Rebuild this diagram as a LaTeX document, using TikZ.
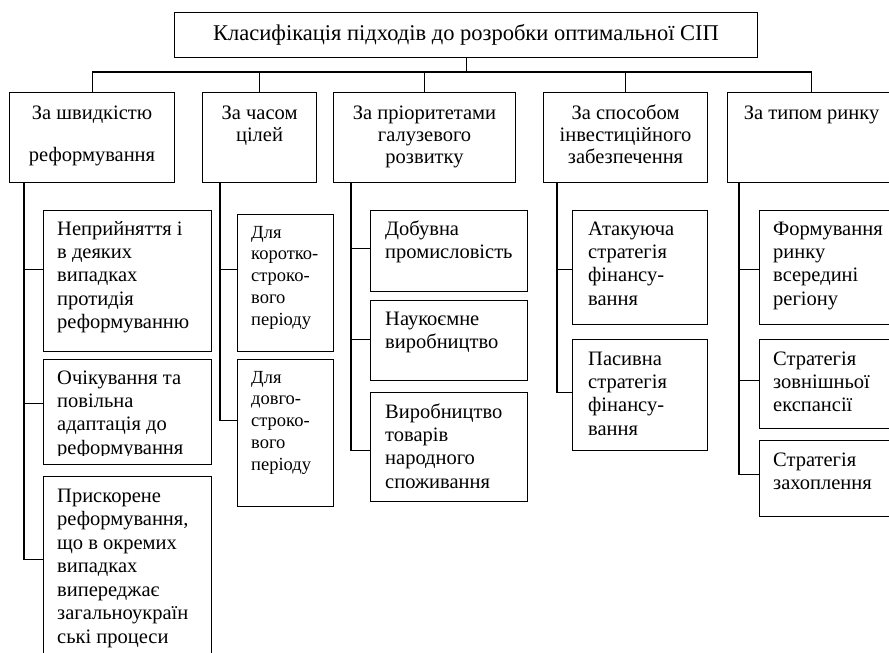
\documentclass[tikz,border=0pt]{standalone}
\usepackage{fontspec}
\setmainfont{Liberation Serif}
\tikzset{
 box/.style={draw, line width=1.1pt, rectangle, inner sep=0pt, anchor=north west},
 ln/.style={line width=1.1pt},
 txt/.style={anchor=north west, inner sep=0pt, align=left, font=\fontsize{20.5}{23.3}\selectfont},
 ctxt/.style={anchor=north, inner sep=0pt, align=center, font=\fontsize{20.5}{22.3}\selectfont},
 stxt/.style={anchor=north west, inner sep=0pt, align=left, font=\fontsize{18.5}{21.7}\selectfont},
}
\newcommand\bx[5]{\node[box, minimum width={#4-#2}, minimum height={#5-#3}] (#1) at (#2,#3) {};}
\newcommand\st{\rule{0pt}{15pt}}
\newcommand\sst{\rule{0pt}{13pt}}
\begin{document}
\begin{tikzpicture}[x=1pt,y=-1pt]
\useasboundingbox (0,0) rectangle (889,653);
\clip (0,0) rectangle (889,653);
% title
\node[box, minimum width=583, minimum height=45, font=\fontsize{22.5}{25}\selectfont] (title) at (174,12) {Класифікація підходів до розробки оптимальної СІП};
% level 1
\bx{b1}{9}{92}{174}{182}
\bx{b2}{202}{92}{316}{182}
\bx{b3}{333}{92}{515}{182}
\bx{b4}{543}{92}{707}{182}
\bx{b5}{727}{92}{895}{182}
\node[ctxt] (t1) at ([yshift=-12pt]b1.north) {\st За швидкістю\\[19.7pt]реформування};
\node[ctxt] (t2) at ([yshift=-12pt]b2.north) {\st За часом\\цілей};
\node[ctxt] (t3) at ([yshift=-12pt]b3.north) {\st За пріоритетами\\галузевого\\розвитку};
\node[ctxt] (t4) at ([yshift=-12pt]b4.north) {\st За способом\\інвестиційного\\забезпечення};
\node[ctxt] (t5) at ([yshift=-12pt]b5.north) {\st За типом ринку};
% bus
\coordinate (bus) at (0,72);
\draw[ln] (title.south) -- (title.south |- bus);
\draw[ln] (b1.north) -- (b1.north |- bus) -- (b5.north |- bus) -- (b5.north);
\draw[ln] (b2.north) -- (b2.north |- bus);
\draw[ln] (b3.north) -- (b3.north |- bus);
\draw[ln] (b4.north) -- (b4.north |- bus);
% column 1
\bx{c11}{43}{210}{211}{351}
\bx{c12}{43}{359}{211}{464}
\bx{c13}{43}{476}{211}{670}
\node[txt] (x11) at (57,220) {\st Неприйняття і\\в деяких\\випадках\\протидія\\реформуванню};
\begin{scope}
\clip (43,359) rectangle (211,455);
\node[txt] (x12) at (57,369) {\st Очікування та\\повільна\\адаптація до\\реформування};
\end{scope}
\node[txt, font=\fontsize{20.5}{23.5}\selectfont] (x13) at (57,487) {\st Прискорене\\реформування,\\що в окремих\\випадках\\випереджає\\загальноукраїн\\ські процеси};
% column 2
\bx{c21}{237}{214}{333}{351}
\bx{c22}{237}{359}{333}{506}
\node[stxt] (x21) at (251,225) {\sst Для\\коротко-\\строко-\\вого\\періоду};
\node[stxt] (x22) at (251,370) {\sst Для\\довго-\\строко-\\вого\\періоду};
% column 3
\bx{c31}{370}{210}{527}{291}
\bx{c32}{370}{300}{527}{380}
\bx{c33}{370}{392}{527}{501}
\node[txt] (x31) at (385,220) {\st Добувна\\промисловість};
\node[txt] (x32) at (385,310) {\st Наукоємне\\виробництво};
\node[txt] (x33) at (385,403) {\st Виробництво\\товарів\\народного\\споживання};
% column 4
\bx{c41}{572}{210}{707}{324}
\bx{c42}{572}{339}{707}{450}
\node[txt] (x41) at (588,220) {\st Атакуюча\\стратегія\\фінансу-\\вання};
\node[txt] (x42) at (588,350) {\st Пасивна\\стратегія\\фінансу-\\вання};
% column 5
\bx{c51}{759}{210}{900}{324}
\bx{c52}{759}{339}{900}{428}
\bx{c53}{759}{440}{900}{516}
\node[txt] (x51) at (773,220) {\st Формування\\ринку\\всередині\\регіону};
\node[txt] (x52) at (773,350) {\st Стратегія\\зовнішньої\\експансії};
\node[txt] (x53) at (773,451) {\st Стратегія\\захоплення};
% connector points
\coordinate (k11) at ([yshift=11.5pt]c11.west);
\coordinate (k12) at ([yshift=8.5pt]c12.west);
\coordinate (k13) at ([yshift=14pt]c13.west);
\coordinate (k21) at ([yshift=13.5pt]c21.west);
\coordinate (k22) at ([yshift=12.5pt]c22.west);
\coordinate (k31) at ([yshift=2.5pt]c31.west);
\coordinate (k32) at ([yshift=1pt]c32.west);
\coordinate (k33) at ([yshift=-3.5pt]c33.west);
\coordinate (k41) at ([yshift=-2pt]c41.west);
\coordinate (k42) at ([yshift=2.5pt]c42.west);
\coordinate (k51) at ([yshift=-2pt]c51.west);
\coordinate (k52) at ([yshift=3.5pt]c52.west);
\coordinate (k53) at ([yshift=4pt]c53.west);
\coordinate (s1) at ([xshift=15pt]b1.south west);
\coordinate (s2) at ([xshift=18pt]b2.south west);
\coordinate (s3) at ([xshift=18pt]b3.south west);
\coordinate (s4) at ([xshift=14pt]b4.south west);
\coordinate (s5) at ([xshift=12pt]b5.south west);
\draw[ln] (s1) |- (k13); \draw[ln] (s1 |- k11) -- (k11); \draw[ln] (s1 |- k12) -- (k12);
\draw[ln] (s2) |- (k22); \draw[ln] (s2 |- k21) -- (k21);
\draw[ln] (s3) |- (k33); \draw[ln] (s3 |- k31) -- (k31); \draw[ln] (s3 |- k32) -- (k32);
\draw[ln] (s4) |- (k42); \draw[ln] (s4 |- k41) -- (k41);
\draw[ln] (s5) |- (k53); \draw[ln] (s5 |- k51) -- (k51); \draw[ln] (s5 |- k52) -- (k52);
\end{tikzpicture}
\end{document}
